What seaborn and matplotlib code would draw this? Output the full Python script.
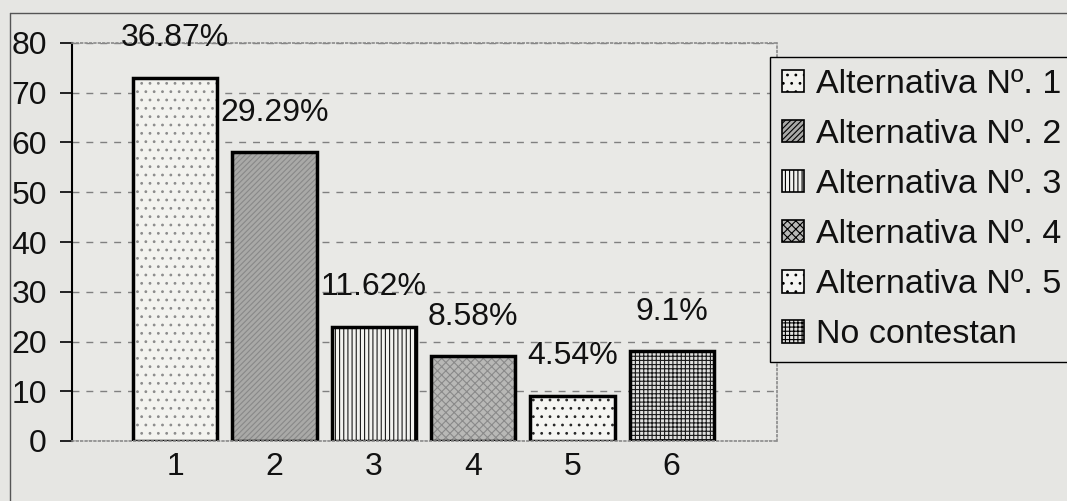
import matplotlib
matplotlib.use('Agg')
import matplotlib.pyplot as plt
import matplotlib.patches as mpatches
from matplotlib.lines import Line2D
import seaborn as sns

# data
categories = ['1', '2', '3', '4', '5', '6']
counts = [73, 58, 23, 17, 9, 18]
pct_labels = ['36.87%', '29.29%', '11.62%', '8.58%', '4.54%', '9.1%']
legend_labels = ['Alternativa Nº. 1', 'Alternativa Nº. 2', 'Alternativa Nº. 3',
                 'Alternativa Nº. 4', 'Alternativa Nº. 5', 'No contestan']

fills = ['#f3f3ef', '#a9a9a7', '#f2f2ef', '#b8b8b6', '#f5f5f2', '#e0e0de']
hatch_colors = ['#8c8c8c', '#888888', '#1a1a1a', '#8a8a8a', '#262626', '#1a1a1a']
hatches = ['..', '//////', '||||', 'xxxx', '..', '++++']

sns.set_theme(style='white')
plt.rcParams['font.family'] = ['Liberation Sans', 'DejaVu Sans']
plt.rcParams['hatch.linewidth'] = 0.8

bg = '#e6e6e3'
fig = plt.figure(figsize=(10.67, 5.01), dpi=100, facecolor=bg)
ax = fig.add_axes([72/1067, 60/501, 705/1067, 398/501])
ax.set_facecolor('#e9e9e6')

sns.barplot(x=categories, y=counts, hue=categories, palette=fills, legend=False,
            width=0.85, saturation=1, ax=ax)

bars = list(ax.patches)
for patch, h, hc, t in zip(bars, hatches, hatch_colors, pct_labels):
    patch.set_hatch(h)
    patch.set_edgecolor(hc)
    patch.set_linewidth(0)
    ax.add_patch(mpatches.Rectangle((patch.get_x(), patch.get_y()),
                                    patch.get_width(), patch.get_height(),
                                    fill=False, edgecolor='black', lw=2.5,
                                    zorder=patch.get_zorder() + 0.1))
    ax.text(patch.get_x() + patch.get_width() / 2, patch.get_height() + 8, t,
            ha='center', va='center', fontsize=23, color='#111111')

ax.set_ylim(0, 80)
ax.set_xlim(-1.04, 6.06)
ax.set_yticks(range(0, 81, 10))
ax.set_xlabel('')
ax.set_ylabel('')
ax.yaxis.grid(True, linestyle=(0, (5, 5)), color='#808080', lw=1)
ax.set_axisbelow(True)

ax.spines['left'].set_color('black')
ax.spines['left'].set_linewidth(1.5)
for s in ['top', 'right', 'bottom']:
    ax.spines[s].set_color('#8a8a8a')
    ax.spines[s].set_linestyle(':')
    ax.spines[s].set_linewidth(1.2)

ax.tick_params(axis='y', left=True, length=9, width=1.2, color='black', pad=9,
               labelsize=23, labelcolor='#111111', direction='out')
ax.tick_params(axis='x', length=0, pad=8, labelsize=23, labelcolor='#111111')

handles = [mpatches.Patch(facecolor=f, edgecolor='black', hatch=h, lw=1.2)
           for f, h in zip(fills, hatches)]
leg = fig.legend(handles, legend_labels, loc='upper left',
                 bbox_to_anchor=(770/1067, 1 - 57/501), fontsize=24.5,
                 frameon=True, fancybox=False, edgecolor='black', facecolor=bg,
                 framealpha=1, handlelength=0.65, handleheight=0.65,
                 handletextpad=0.35, labelspacing=0.56, borderpad=0.35,
                 borderaxespad=0)
leg.get_frame().set_linewidth(1)
for txt in leg.get_texts():
    txt.set_color('#111111')

# outer chart border
fig.add_artist(Line2D([10/1067, 10/1067], [0, 1 - 13/501], color='#555555', lw=1))
fig.add_artist(Line2D([10/1067, 1], [1 - 13/501, 1 - 13/501], color='#555555', lw=1))

fig.savefig('out.png', dpi=100, facecolor=bg)
